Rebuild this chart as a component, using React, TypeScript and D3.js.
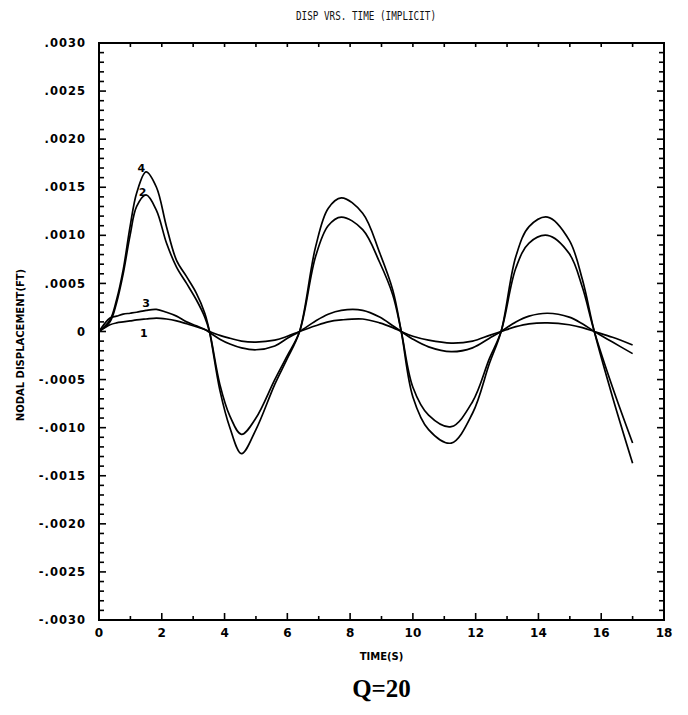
import React, { useEffect, useRef } from 'react';
import * as d3 from 'd3';

// sample times (s), shared by all four nodes
const TIME = [
  0, 0.35, 0.56, 0.77, 0.99, 1.2, 1.5, 1.83, 2.15, 2.47, 2.79, 3.1, 3.37, 3.52, 3.85, 4.17,
  4.54, 5.0, 5.6, 6.0, 6.39, 6.9, 7.3, 7.72, 8.4, 8.94, 9.36, 9.63, 10.0, 10.5, 11.22, 11.9,
  12.44, 12.81, 13.28, 13.7, 14.29, 14.98, 15.4, 15.78, 16.36, 17.0,
];

const NODE_1 = [
  0, 0.00007, 0.00009, 0.0001, 0.00011, 0.00012, 0.00013, 0.00014, 0.00013, 0.00011, 0.00008,
  0.00005, 0.00002, 0, -0.00004, -0.00007, -0.0001, -0.00011, -0.00009, -0.00005, 0, 0.00006,
  0.0001, 0.00012, 0.00013, 0.00009, 0.00004, 0, -0.00005, -0.00009, -0.00012, -0.0001,
  -0.00004, 0, 0.00005, 0.00008, 0.00009, 0.00007, 0.00004, 0, -0.00006, -0.00014,
];

const NODE_2 = [
  0, 0.0001, 0.0003, 0.0006, 0.001, 0.0013, 0.00142, 0.00126, 0.00092, 0.00067, 0.0005,
  0.00033, 0.00015, 0, -0.00055, -0.00088, -0.00107, -0.0009, -0.0005, -0.00025, 0, 0.00078,
  0.0011, 0.00119, 0.00106, 0.00072, 0.00038, 0, -0.00058, -0.00087, -0.00099, -0.00073,
  -0.00028, 0, 0.00066, 0.00092, 0.001, 0.00081, 0.00046, 0, -0.00058, -0.00116,
];

const NODE_3 = [
  0, 0.00014, 0.00016, 0.00018, 0.00019, 0.0002, 0.00022, 0.00023, 0.0002, 0.00016, 0.0001,
  0.00006, 0.00002, -0.00001, -0.00008, -0.00013, -0.00017, -0.00019, -0.00015, -0.00007, 0,
  0.00011, 0.00018, 0.00022, 0.00022, 0.00015, 0.00006, 0, -0.00008, -0.00016, -0.00021,
  -0.00017, -0.00007, 0, 0.0001, 0.00016, 0.00019, 0.00015, 0.00008, 0, -0.00011, -0.00023,
];

const NODE_4 = [
  0, 0.00012, 0.00033, 0.00064, 0.00109, 0.00144, 0.00166, 0.0015, 0.00109, 0.00074, 0.00057,
  0.0004, 0.00019, 0, -0.00061, -0.001, -0.00127, -0.00102, -0.00055, -0.00028, 0, 0.00088,
  0.00128, 0.00139, 0.00123, 0.00082, 0.00043, 0, -0.00068, -0.00102, -0.00116, -0.00085,
  -0.00033, 0, 0.00078, 0.00109, 0.00119, 0.00095, 0.00054, 0, -0.00068, -0.00137,
];

// curve labels: name, time, displacement
const LABEL_NAMES = ['4', '2', '3', '1'];
const LABEL_T = [1.35, 1.39, 1.5, 1.43];
const LABEL_V = [0.0017, 0.00145, 0.0003, -0.00002];

const X_TICKS = [0, 2, 4, 6, 8, 10, 12, 14, 16, 18];
const Y_TICKS = [0.003, 0.0025, 0.002, 0.0015, 0.001, 0.0005, 0, -0.0005, -0.001, -0.0015, -0.002, -0.0025, -0.003];

const W = 688;
const H = 715;

const fmtY = (v: number) => {
  if (Math.abs(v) < 1e-9) return '0';
  const s = Math.abs(v).toFixed(4).replace(/^0/, '');
  return (v < 0 ? '-' : '') + s;
};

const App = () => {
  const svgRef = useRef<SVGSVGElement>(null);

  useEffect(() => {
    const svg = d3.select(svgRef.current);
    svg.selectAll('*').remove();

    const left = 99, right = 664, top = 43, bottom = 620;
    const x = d3.scaleLinear().domain([0, 18]).range([left, right]);
    const y = d3.scaleLinear().domain([-0.003, 0.003]).range([bottom, top]);

    svg.append('rect').attr('width', W).attr('height', H).attr('fill', '#fff');

    const font = "'DejaVu Sans', sans-serif";

    // title
    svg.append('text')
      .attr('x', 366)
      .attr('y', 20)
      .attr('text-anchor', 'middle')
      .attr('textLength', 140)
      .attr('lengthAdjust', 'spacingAndGlyphs')
      .style('font-family', "'DejaVu Sans Mono', monospace")
      .style('font-size', '13px')
      .style('fill', '#111')
      .text('DISP VRS. TIME (IMPLICIT)');

    // minor ticks
    const ticks = svg.append('g').attr('stroke', '#000').attr('stroke-width', 1.6);
    d3.range(0, 19).forEach(t => {
      const len = t % 2 === 0 ? 7 : 4;
      ticks.append('line').attr('x1', x(t)).attr('x2', x(t)).attr('y1', bottom).attr('y2', bottom - len);
      ticks.append('line').attr('x1', x(t)).attr('x2', x(t)).attr('y1', top).attr('y2', top + 4);
    });
    d3.range(-30, 31).forEach(i => {
      const v = i * 0.0001;
      const len = i % 5 === 0 ? 7 : 5;
      ticks.append('line').attr('x1', left).attr('x2', left + len).attr('y1', y(v)).attr('y2', y(v));
      ticks.append('line').attr('x1', right).attr('x2', right - len).attr('y1', y(v)).attr('y2', y(v));
    });

    // frame
    svg.append('rect')
      .attr('x', left)
      .attr('y', top)
      .attr('width', right - left)
      .attr('height', bottom - top)
      .attr('fill', 'none')
      .attr('stroke', '#000')
      .attr('stroke-width', 2);

    // tick labels
    svg.append('g')
      .selectAll('text')
      .data(Y_TICKS)
      .enter()
      .append('text')
      .attr('x', left - 13)
      .attr('y', d => y(d))
      .attr('dy', '0.36em')
      .attr('text-anchor', 'end')
      .style('font-family', font)
      .style('font-size', '11.5px')
      .style('font-weight', '700')
      .style('letter-spacing', '1px')
      .text(d => fmtY(d));

    svg.append('g')
      .selectAll('text')
      .data(X_TICKS)
      .enter()
      .append('text')
      .attr('x', d => x(d))
      .attr('y', bottom + 17)
      .attr('text-anchor', 'middle')
      .style('font-family', font)
      .style('font-size', '12px')
      .style('font-weight', '700')
      .text(d => String(d));

    svg.append('text')
      .attr('x', x(9))
      .attr('y', bottom + 40)
      .attr('text-anchor', 'middle')
      .style('font-family', font)
      .style('font-size', '10px')
      .style('font-weight', '700')
      .text('TIME(S)');

    svg.append('text')
      .attr('transform', `translate(24,345) rotate(-90)`)
      .attr('text-anchor', 'middle')
      .style('font-family', font)
      .style('font-size', '10px')
      .style('font-weight', '700')
      .text('NODAL DISPLACEMENT(FT)');

    svg.append('text')
      .attr('x', x(9))
      .attr('y', 697)
      .attr('text-anchor', 'middle')
      .style('font-family', "'Liberation Serif', serif")
      .style('font-size', '25px')
      .style('font-weight', '700')
      .text('Q=20');

    // curves
    const line = d3.line<number>()
      .x((_, i) => x(TIME[i]))
      .y(d => y(d))
      .curve(d3.curveCatmullRom.alpha(0.5));

    [NODE_1, NODE_2, NODE_3, NODE_4].forEach(series => {
      svg.append('path')
        .attr('d', line(series) as string)
        .attr('fill', 'none')
        .attr('stroke', '#000')
        .attr('stroke-width', 1.7);
    });

    svg.append('g')
      .selectAll('text')
      .data(LABEL_NAMES)
      .enter()
      .append('text')
      .attr('x', (_, i) => x(LABEL_T[i]))
      .attr('y', (_, i) => y(LABEL_V[i]))
      .attr('dy', '0.36em')
      .attr('text-anchor', 'middle')
      .style('font-family', font)
      .style('font-size', '11px')
      .style('font-weight', '700')
      .text(d => d);
  }, []);

  return (
    <svg
      ref={svgRef}
      width={W}
      height={H}
      style={{ position: 'absolute', left: 0, top: 0, display: 'block' }}
    />
  );
};

export default App;
